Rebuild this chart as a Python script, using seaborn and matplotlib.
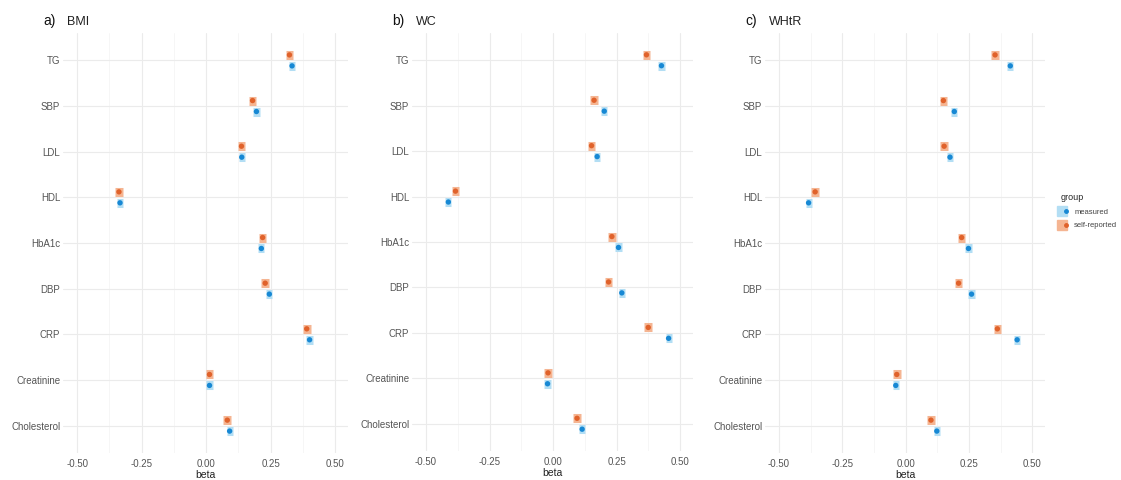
import numpy as np
import pandas as pd
import seaborn as sns
import matplotlib.pyplot as plt
from matplotlib.lines import Line2D
from matplotlib.legend_handler import HandlerTuple

# outcomes, top to bottom as drawn
outcomes = ["TG", "SBP", "LDL", "HDL", "HbA1c", "DBP", "CRP", "Creatinine", "Cholesterol"]
groups = ["measured", "self-reported"]

# beta estimates per exposure
bmi_measured = [0.333, 0.195, 0.138, -0.334, 0.214, 0.245, 0.401, 0.013, 0.091]
bmi_self = [0.323, 0.180, 0.137, -0.338, 0.219, 0.229, 0.390, 0.013, 0.082]
wc_measured = [0.426, 0.201, 0.173, -0.412, 0.257, 0.270, 0.454, -0.022, 0.114]
wc_self = [0.367, 0.161, 0.151, -0.384, 0.231, 0.218, 0.374, -0.020, 0.094]
whtr_measured = [0.413, 0.192, 0.175, -0.383, 0.248, 0.260, 0.440, -0.039, 0.123]
whtr_self = [0.353, 0.149, 0.152, -0.357, 0.221, 0.209, 0.362, -0.035, 0.100]

# half width of the 95% CI
ci_measured = 0.012
ci_self = 0.015

panels = [
    ("a)", "BMI", bmi_measured, bmi_self),
    ("b)", "WC", wc_measured, wc_self),
    ("c)", "WHtR", whtr_measured, whtr_self),
]

colors = {"measured": "#1788d4", "self-reported": "#e0622b"}
light = {"measured": "#b3def4", "self-reported": "#f5b592"}
dodge = {"measured": -0.12, "self-reported": 0.12}

sns.set_theme(style="whitegrid")
plt.rcParams["font.family"] = ["Liberation Sans", "DejaVu Sans"]

W, H = 1121, 480
fig = plt.figure(figsize=(W / 100, H / 100), dpi=100)
boxes = [(63, 348, 33, 453), (412, 693, 33, 451), (765, 1045, 33, 453)]

n = len(outcomes)
for (tag, name, meas, selfr), (l, r, t, b) in zip(panels, boxes):
    ax = fig.add_axes([l / W, 1 - b / H, (r - l) / W, (b - t) / H])
    df = pd.DataFrame({
        "outcome": outcomes * 2,
        "beta": meas + selfr,
        "group": ["measured"] * n + ["self-reported"] * n,
    })
    df["ci"] = np.where(df["group"] == "measured", ci_measured, ci_self)
    df["ypos"] = [n - 1 - outcomes.index(o) + dodge[g] for o, g in zip(df["outcome"], df["group"])]

    for g in groups:
        sub = df[df["group"] == g]
        ax.errorbar(sub["beta"], sub["ypos"], xerr=sub["ci"], fmt="none",
                    ecolor=light[g], elinewidth=6.5, capsize=0, zorder=2)
    sns.scatterplot(data=df, x="beta", y="ypos", hue="group", palette=colors,
                    s=15, edgecolor="none", legend=False, ax=ax, zorder=3)

    ax.set_xlim(-0.555, 0.55)
    ax.set_ylim(-0.6, n - 0.4)
    ax.set_yticks(range(n))
    ax.set_yticklabels(outcomes[::-1])
    ax.set_xticks([-0.5, -0.25, 0, 0.25, 0.5])
    ax.set_xticklabels(["-0.50", "-0.25", "0.00", "0.25", "0.50"])
    ax.set_xticks([-0.375, -0.125, 0.125, 0.375], minor=True)
    ax.grid(True, which="major", color="#ebebeb", linewidth=0.8)
    ax.grid(True, which="minor", axis="x", color="#f3f3f3", linewidth=0.5)
    ax.set_axisbelow(True)
    for s in ax.spines.values():
        s.set_visible(False)
    ax.tick_params(axis="both", which="both", length=0, labelsize=7, labelcolor="#555555")
    ax.tick_params(axis="x", pad=4)
    ax.tick_params(axis="y", pad=2)
    ax.set_ylabel("")
    ax.set_xlabel("beta", fontsize=7.5, color="#222222", labelpad=1)
    fig.text((l - 20) / W, 1 - 21 / H, tag, fontsize=10, color="#111111", va="center", ha="left")
    fig.text((l + 4) / W, 1 - 22 / H, name, fontsize=9, color="#222222", va="center", ha="left")

handles = [(Line2D([], [], marker="s", markersize=6.5, color=light[g], linestyle="none"),
            Line2D([], [], marker="o", markersize=2.5, color=colors[g], linestyle="none"))
           for g in groups]
leg = fig.legend(handles, groups, title="group", loc="upper left",
                 bbox_to_anchor=(1055 / W, 1 - 188 / H), frameon=False,
                 fontsize=5.5, title_fontsize=6.5, handler_map={tuple: HandlerTuple(ndivide=None)},
                 handlelength=0.9, handletextpad=0.9, labelspacing=0.8, borderpad=0.2)
leg._legend_box.align = "left"
for txt in leg.get_texts():
    txt.set_color("#444444")

fig.savefig("out.png", dpi=100, facecolor="white")
